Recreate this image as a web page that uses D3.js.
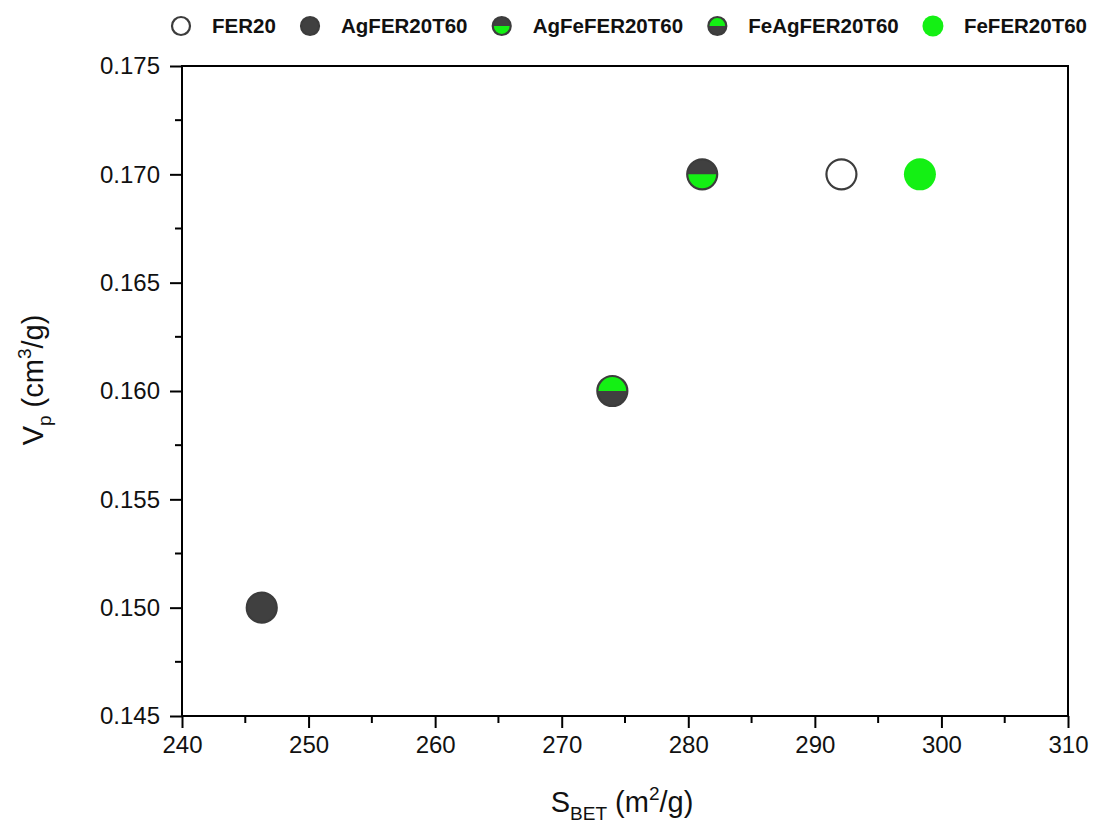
<!DOCTYPE html>
<html>
  <head>
    <title>Vp vs SBET</title>
    <script src="https://d3js.org/d3.v7.min.js"></script>
    <style>
      body { margin: 0; background: #fff; }
      text { font-family: Arial, "Liberation Sans", sans-serif; fill: #111; }
    </style>
  </head>
  <body>
    <svg width="1093" height="823"></svg>

    <script>
      // samples
      const samples = ["FER20", "AgFER20T60", "AgFeFER20T60", "FeAgFER20T60", "FeFER20T60"];
      const sBet = [292.1, 246.3, 281.1, 274.0, 298.3];
      const vp = [0.170, 0.150, 0.170, 0.160, 0.170];
      // marker style: top half / bottom half fill
      const topFill = ["#ffffff", "#404040", "#404040", "#14f014", "#14f014"];
      const bottomFill = ["#ffffff", "#404040", "#14f014", "#404040", "#14f014"];
      const xTicks = [240, 250, 260, 270, 280, 290, 300, 310];
      const yTicks = [0.145, 0.150, 0.155, 0.160, 0.165, 0.170, 0.175];

      const dark = "#3c3c3c";
      const svg = d3.select("svg");
      const plotL = 182, plotR = 1068, plotT = 66, plotB = 716;

      const x = d3.scaleLinear().domain([240, 310]).range([plotL, plotR]);
      const y = d3.scaleLinear().domain([0.145, 0.175]).range([plotB, plotT]);

      // frame
      svg.append("rect")
        .attr("x", plotL).attr("y", plotT)
        .attr("width", plotR - plotL).attr("height", plotB - plotT)
        .attr("fill", "none").attr("stroke", "#000").attr("stroke-width", 2);

      // minor ticks
      const xMinor = d3.range(245, 310, 10);
      const yMinor = d3.range(0.1475, 0.175, 0.005);
      svg.append("g").selectAll("line").data(xMinor).join("line")
        .attr("x1", d => x(d)).attr("x2", d => x(d))
        .attr("y1", plotB).attr("y2", plotB + 7)
        .attr("stroke", "#000").attr("stroke-width", 2);
      svg.append("g").selectAll("line").data(yMinor).join("line")
        .attr("y1", d => y(d)).attr("y2", d => y(d))
        .attr("x1", plotL).attr("x2", plotL - 7)
        .attr("stroke", "#000").attr("stroke-width", 2);

      // axes
      const xAxis = svg.append("g")
        .attr("transform", `translate(0,${plotB})`)
        .call(d3.axisBottom(x).tickValues(xTicks).tickSize(12).tickPadding(8).tickFormat(d3.format("d")));
      const yAxis = svg.append("g")
        .attr("transform", `translate(${plotL},0)`)
        .call(d3.axisLeft(y).tickValues(yTicks).tickSize(12).tickPadding(10).tickFormat(d3.format(".3f")));
      [xAxis, yAxis].forEach(g => {
        g.select(".domain").remove();
        g.selectAll(".tick line").attr("stroke", "#000").attr("stroke-width", 2);
        g.selectAll(".tick text").attr("font-size", 24).attr("fill", "#111")
          .attr("font-family", "Arial, 'Liberation Sans', sans-serif");
      });

      // axis titles
      const xt = svg.append("text").attr("x", 622).attr("y", 812)
        .attr("text-anchor", "middle").attr("font-size", 29);
      xt.append("tspan").text("S");
      xt.append("tspan").text("BET").attr("font-size", 19).attr("dy", 8);
      xt.append("tspan").text(" (m").attr("dy", -8);
      xt.append("tspan").text("2").attr("font-size", 19).attr("dy", -12);
      xt.append("tspan").text("/g)").attr("dy", 12);

      const yt = svg.append("text")
        .attr("transform", "translate(43,380) rotate(-90)")
        .attr("text-anchor", "middle").attr("font-size", 29);
      yt.append("tspan").text("V");
      yt.append("tspan").text("p").attr("font-size", 19).attr("dy", 8);
      yt.append("tspan").text(" (cm").attr("dy", -8);
      yt.append("tspan").text("3").attr("font-size", 19).attr("dy", -12);
      yt.append("tspan").text("/g)").attr("dy", 12);

      const topArc = r => d3.arc()({ innerRadius: 0, outerRadius: r, startAngle: -Math.PI / 2, endAngle: Math.PI / 2 });

      function marker(g, i, r) {
        // full disc in the bottom colour, top half laid over it
        g.append("circle").attr("r", r).attr("fill", bottomFill[i]);
        if (topFill[i] !== bottomFill[i]) {
          g.append("path").attr("d", topArc(r)).attr("fill", topFill[i]);
        }
        g.append("circle").attr("r", r).attr("fill", "none")
          .attr("stroke", i === 4 ? "none" : dark).attr("stroke-width", 2.2);
      }

      // points
      samples.forEach((s, i) => {
        const g = svg.append("g").attr("transform", `translate(${x(sBet[i])},${y(vp[i])})`);
        marker(g, i, i === 4 ? 16 : 15);
      });

      // legend, spread between 173 and 1087
      const leg = svg.append("g");
      const items = samples.map((s, i) => {
        const g = leg.append("g");
        marker(g, i, i === 4 ? 10.5 : 9);
        const t = g.append("text").attr("x", 31).attr("y", 7)
          .attr("font-size", 20.5).attr("font-weight", "bold").text(s);
        return { g, w: 31 + t.node().getComputedTextLength() };
      });
      const total = d3.sum(items, d => d.w);
      const gap = (1087 - 181 - total) / (items.length - 1);
      let cx = 181;
      items.forEach(d => {
        d.g.attr("transform", `translate(${cx},26)`);
        cx += d.w + gap;
      });
    </script>
  </body>
</html>
